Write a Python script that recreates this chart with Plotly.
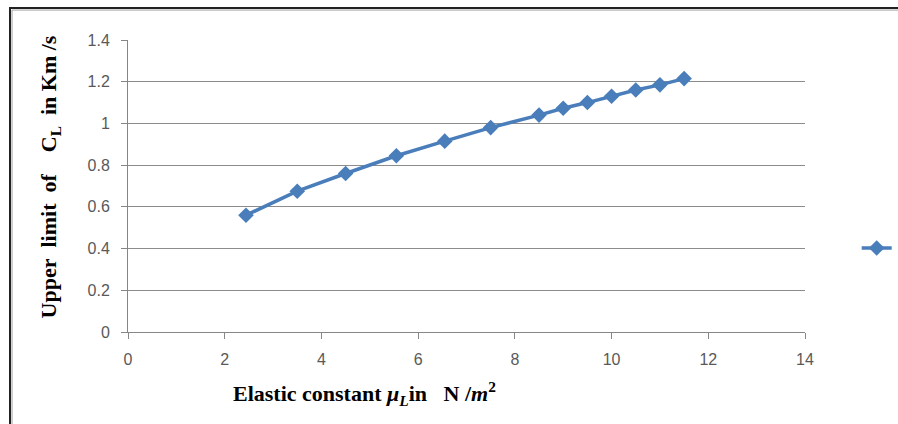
import plotly.graph_objects as go

elastic_constant = [2.44, 3.5, 4.5, 5.55, 6.55, 7.5, 8.5, 9.0, 9.5, 10.0, 10.5, 11.0, 11.5]
upper_limit_cl = [0.56, 0.675, 0.76, 0.845, 0.915, 0.98, 1.04, 1.073, 1.10, 1.13, 1.16, 1.185, 1.215]

x_ticks = [0, 2, 4, 6, 8, 10, 12, 14]
y_ticks = [0, 0.2, 0.4, 0.6, 0.8, 1.0, 1.2, 1.4]
y_tick_text = ["0", "0.2", "0.4", "0.6", "0.8", "1", "1.2", "1.4"]

x_title = "<b>Elastic constant <i>μ<sub>L</sub></i>in&nbsp;&nbsp;&nbsp;N /<i>m</i><sup>2</sup></b>"
y_title = "<b>Upper&nbsp;&nbsp;limit&nbsp;&nbsp;of&nbsp;&nbsp;&nbsp;&nbsp;C<sub>L</sub>&nbsp;&nbsp;in Km /s</b>"

blue = "#4a7ebb"
tick_font = dict(family="Liberation Sans, Arial, sans-serif", size=16, color="#595959")
title_font = dict(family="Liberation Serif, Times New Roman, serif", size=22, color="#000000")

fig = go.Figure()
fig.add_trace(go.Scatter(
    x=elastic_constant, y=upper_limit_cl, mode="lines+markers",
    name=" ",
    line=dict(color=blue, width=3.5),
    marker=dict(symbol="diamond", size=12, color=blue),
    showlegend=True,
))

fig.update_layout(
    width=898, height=424, autosize=False,
    margin=dict(l=128, r=93, t=40, b=92),
    paper_bgcolor="white", plot_bgcolor="white",
    xaxis=dict(range=[0, 14], tickvals=x_ticks, showgrid=False, zeroline=False,
               showline=True, linecolor="#868686", linewidth=1,
               ticks="outside", ticklen=6, tickcolor="#868686",
               tickfont=tick_font, ticklabelstandoff=7, automargin=False),
    yaxis=dict(range=[0, 1.4], tickvals=y_ticks, ticktext=y_tick_text,
               showgrid=True, gridcolor="#8c8c8c", gridwidth=1, zeroline=False,
               showline=True, linecolor="#868686", linewidth=1,
               ticks="outside", ticklen=6, tickcolor="#868686",
               tickfont=tick_font, ticklabelstandoff=8, automargin=False),
    legend=dict(xref="container", yref="container", x=0.954, y=0.415,
                xanchor="left", yanchor="middle",
                bgcolor="rgba(0,0,0,0)", font=dict(size=12)),
    showlegend=True,
)

fig.add_annotation(text=x_title, xref="paper", yref="paper", x=0.35, y=-0.209,
                   xanchor="center", yanchor="middle", showarrow=False, font=title_font)
fig.add_annotation(text=y_title, xref="paper", yref="paper", x=-0.115, y=0.53,
                   xanchor="center", yanchor="middle", showarrow=False, font=title_font,
                   textangle=-90)

fig.add_shape(type="rect", xref="paper", yref="paper",
              x0=-0.1743, x1=1.15, y0=-0.34, y1=1.1096,
              line=dict(color="#222222", width=2), layer="above")
fig.add_shape(type="rect", xref="paper", yref="paper",
              x0=-0.1713, x1=1.15, y0=-0.34, y1=1.1025,
              line=dict(color="#a0a0a0", width=1), layer="above")

fig.write_html("out.html", config={"responsive": False, "displayModeBar": False},
               post_script="document.body.style.margin='0';document.body.style.overflow='hidden';")
